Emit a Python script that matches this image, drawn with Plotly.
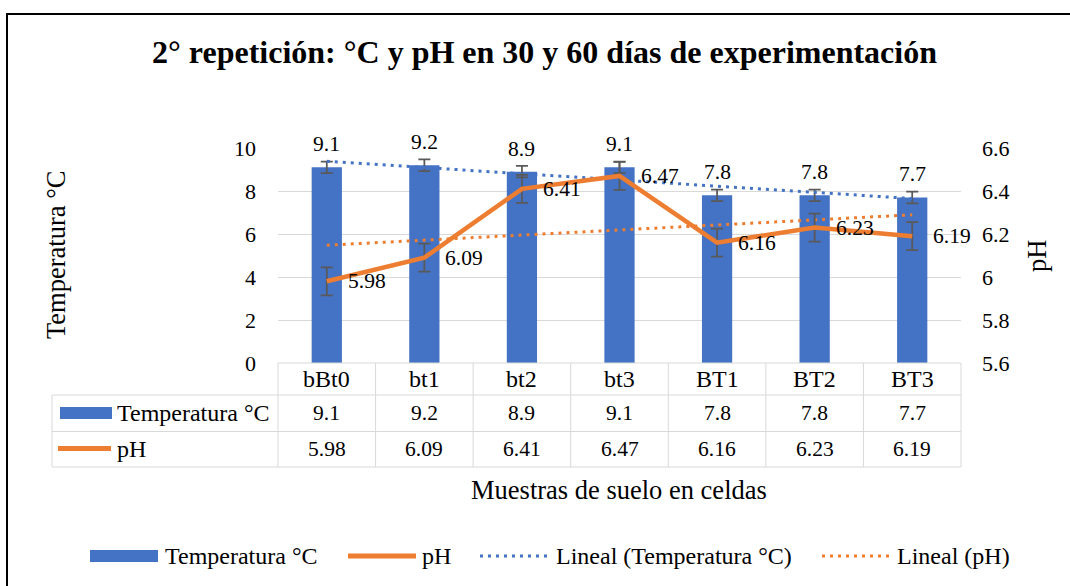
import numpy as np
import plotly.graph_objects as go

# ---------------- data ----------------
categories = ["bBt0", "bt1", "bt2", "bt3", "BT1", "BT2", "BT3"]
temperatura = [9.1, 9.2, 8.9, 9.1, 7.8, 7.8, 7.7]
ph = [5.98, 6.09, 6.41, 6.47, 6.16, 6.23, 6.19]
temp_err = [0.27] * 7
ph_err = [0.065] * 7
left_ticks = [0, 2, 4, 6, 8, 10]
right_ticks = [5.6, 5.8, 6.0, 6.2, 6.4, 6.6]
right_ticktext = ["5.6", "5.8", "6", "6.2", "6.4", "6.6"]

title_text = "2° repetición: °C y pH en 30 y 60 días de experimentación"
y1_title = "Temperatura °C"
y2_title = "pH"
x_title = "Muestras de suelo en celdas"
name_temp = "Temperatura °C"
name_ph = "pH"
name_tt = "Lineal (Temperatura °C)"
name_tp = "Lineal (pH)"

# linear trendlines (Excel "Lineal")
xi = np.arange(len(categories))
ct = np.polyfit(xi, temperatura, 1)
cp = np.polyfit(xi, ph, 1)
trend_temp = list(np.polyval(ct, xi))
trend_ph = list(np.polyval(cp, xi))

# ---------------- style ----------------
BLUE = "#4472C4"
ORANGE = "#ED7D31"
GRID = "#D9D9D9"
ERR = "#595959"
FONT = "Liberation Serif"
W, H = 1070, 586
L, R, T, B = 278, 961, 148, 363  # plot area in pixels


def px(p):
    return (p - L) / (R - L)


def py(p):
    return (B - p) / (B - T)


fig = go.Figure()

fig.add_trace(go.Bar(
    x=categories, y=temperatura, name=name_temp, width=0.31,
    marker=dict(color=BLUE, line=dict(width=0)),
    error_y=dict(type="data", array=temp_err, color=ERR, thickness=1.75, width=6),
    yaxis="y", showlegend=False,
))
fig.add_trace(go.Scatter(
    x=categories, y=trend_temp, name=name_tt, mode="lines",
    line=dict(color=BLUE, width=3, dash="3px,5px"), yaxis="y", showlegend=False,
))
fig.add_trace(go.Scatter(
    x=categories, y=trend_ph, name=name_tp, mode="lines",
    line=dict(color=ORANGE, width=3, dash="3px,5px"), yaxis="y2", showlegend=False,
))
fig.add_trace(go.Scatter(
    x=categories, y=ph, name=name_ph, mode="lines",
    line=dict(color=ORANGE, width=4.5),
    error_y=dict(type="data", array=ph_err, color=ERR, thickness=1.75, width=6),
    yaxis="y2", showlegend=False,
))

ann = []
shapes = []
f_num = dict(family=FONT, size=21.5, color="black")
f_txt = dict(family=FONT, size=24, color="black")
f_cat = dict(family=FONT, size=24, color="black")


def note(**kw):
    kw.setdefault("showarrow", False)
    kw.setdefault("xanchor", "center")
    kw.setdefault("yanchor", "middle")
    ann.append(kw)


# data labels
for c, v in zip(categories, temperatura):
    note(x=c, y=v, xref="x", yref="y", text=f"{v:g}", yshift=23, font=f_num)
for c, v in zip(categories, ph):
    note(x=c, y=v, xref="x", yref="y2", text=f"{v:g}", xanchor="left", xshift=19, font=f_num)

# data table
tx0, tx1 = 52, R
row_y = [363, 395, 431.5, 467]
line = dict(color=GRID, width=1)
shapes.append(dict(type="line", xref="paper", yref="paper", x0=px(L), x1=px(R), y0=py(363), y1=py(363), line=line))
for yy in row_y[1:]:
    shapes.append(dict(type="line", xref="paper", yref="paper", x0=px(tx0), x1=px(tx1), y0=py(yy), y1=py(yy), line=line))
shapes.append(dict(type="line", xref="paper", yref="paper", x0=px(tx0), x1=px(tx0), y0=py(395), y1=py(467), line=line))
ncat = len(categories)
for i in range(ncat + 1):
    xx = L + (R - L) * i / ncat
    shapes.append(dict(type="line", xref="paper", yref="paper", x0=px(xx), x1=px(xx), y0=py(363), y1=py(467), line=line))

for c in categories:
    note(x=c, y=py(379), xref="x", yref="paper", text=c, font=f_cat)
for c, v in zip(categories, temperatura):
    note(x=c, y=py(413), xref="x", yref="paper", text=f"{v:g}", font=f_num)
for c, v in zip(categories, ph):
    note(x=c, y=py(449), xref="x", yref="paper", text=f"{v:g}", font=f_num)
# table legend keys
shapes.append(dict(type="rect", xref="paper", yref="paper", x0=px(60), x1=px(112), y0=py(419), y1=py(407),
                   fillcolor=BLUE, line=dict(width=0)))
shapes.append(dict(type="line", xref="paper", yref="paper", x0=px(58), x1=px(111), y0=py(448.5), y1=py(448.5),
                   line=dict(color=ORANGE, width=5)))
note(x=px(115), y=py(413), xref="paper", yref="paper", text=name_temp, xanchor="left", font=f_txt)
note(x=px(115), y=py(449), xref="paper", yref="paper", text=name_ph, xanchor="left", font=f_txt)

# axis titles
f_ax = dict(family=FONT, size=26.5, color="black")
note(x=px(619), y=py(490), xref="paper", yref="paper", text=x_title, font=f_ax)
note(x=px(56), y=py(255), xref="paper", yref="paper", text=y1_title, textangle=-90, font=f_ax)
note(x=px(1037), y=py(256), xref="paper", yref="paper", text=y2_title, textangle=-90, font=f_ax)

# bottom legend (custom)
ly = 556
shapes.append(dict(type="rect", xref="paper", yref="paper", x0=px(90), x1=px(158), y0=py(562), y1=py(550),
                   fillcolor=BLUE, line=dict(width=0)))
note(x=px(163), y=py(ly), xref="paper", yref="paper", text=name_temp, xanchor="left", font=f_txt)
shapes.append(dict(type="line", xref="paper", yref="paper", x0=px(348), x1=px(416), y0=py(ly), y1=py(ly),
                   line=dict(color=ORANGE, width=5)))
note(x=px(420), y=py(ly), xref="paper", yref="paper", text=name_ph, xanchor="left", font=f_txt)
shapes.append(dict(type="line", xref="paper", yref="paper", x0=px(480), x1=px(552), y0=py(ly), y1=py(ly),
                   line=dict(color=BLUE, width=3, dash="3px,5px")))
note(x=px(554), y=py(ly), xref="paper", yref="paper", text=name_tt, xanchor="left", font=f_txt)
shapes.append(dict(type="line", xref="paper", yref="paper", x0=px(822), x1=px(892), y0=py(ly), y1=py(ly),
                   line=dict(color=ORANGE, width=3, dash="3px,5px")))
note(x=px(895), y=py(ly), xref="paper", yref="paper", text=name_tp, xanchor="left", font=f_txt)

# outer frame
shapes.append(dict(type="rect", xref="paper", yref="paper", x0=px(7), x1=px(1080), y0=py(600), y1=py(14),
                   line=dict(color="black", width=2), fillcolor="rgba(0,0,0,0)", layer="above"))

fig.update_layout(
    width=W, height=H, autosize=False,
    margin=dict(l=L, r=W - R, t=T, b=H - B, pad=0),
    paper_bgcolor="white", plot_bgcolor="white",
    font=dict(family=FONT, size=22, color="black"),
    title=dict(text=f"<b>{title_text}</b>", x=544.5 / W, y=1 - 52 / H, xref="container", yref="container",
               xanchor="center", yanchor="middle", font=dict(family=FONT, size=32, color="black")),
    showlegend=False,
    hovermode=False,
    xaxis=dict(type="category", range=[-0.5, 6.5], showticklabels=False, showgrid=False,
               zeroline=False, showline=False, ticks=""),
    yaxis=dict(range=[0, 10], tickvals=left_ticks, showgrid=True, gridcolor=GRID, gridwidth=1,
               zeroline=False, showline=False, ticks="", ticklabelstandoff=21,
               tickfont=dict(family=FONT, size=22, color="black")),
    yaxis2=dict(range=[5.6, 6.6], overlaying="y", side="right", tickvals=right_ticks,
                ticktext=right_ticktext, showgrid=False, zeroline=False, showline=False, ticks="",
                ticklabelstandoff=20, tickfont=dict(family=FONT, size=22, color="black")),
    annotations=ann,
    shapes=shapes,
)

fig.write_html("out.html", config={"displayModeBar": False},
               post_script="document.body.style.margin='0';document.body.style.overflow='hidden';")
